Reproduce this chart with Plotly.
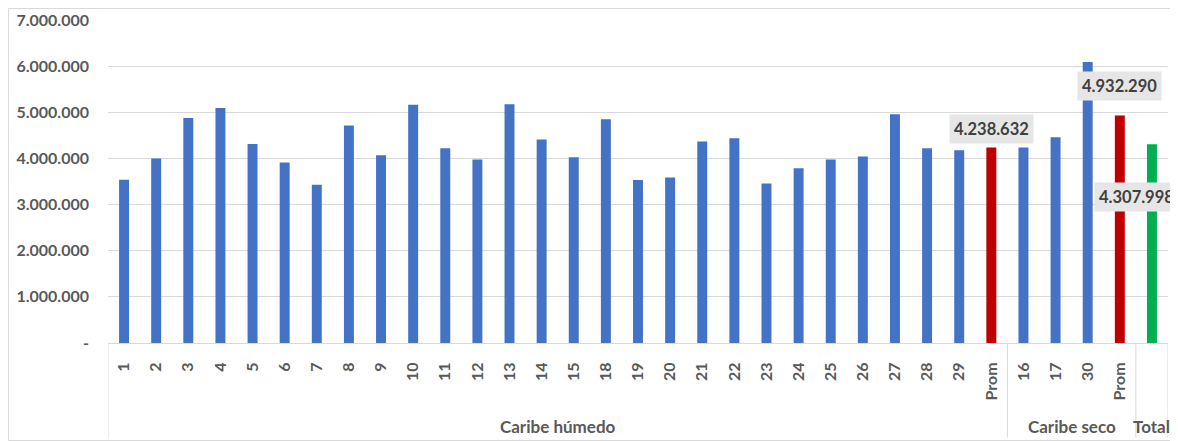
import plotly.graph_objects as go

# ---- data ----
humedo_labels = ["1", "2", "3", "4", "5", "6", "7", "8", "9", "10", "11", "12", "13", "14",
                 "15", "18", "19", "20", "21", "22", "23", "24", "25", "26", "27", "28", "29"]
humedo_values = [3540000, 4000000, 4877000, 5093000, 4314000, 3911000, 3427000, 4712000,
                 4069000, 5166000, 4221000, 3976000, 5173000, 4409000, 4026000, 4848000,
                 3535000, 3586000, 4366000, 4437000, 3456000, 3788000, 3976000, 4041000,
                 4957000, 4221000, 4177000]
humedo_prom = 4238632

seco_labels = ["16", "17", "30"]
seco_values = [4235000, 4459000, 6089000]
seco_prom = 4932290

total_value = 4307998

group_names = ["Caribe húmedo", "Caribe seco", "Total"]
prom_label = "Prom"

y_tickvals = [0, 1000000, 2000000, 3000000, 4000000, 5000000, 6000000, 7000000]
y_ticktext = ["-", "1.000.000", "2.000.000", "3.000.000", "4.000.000",
              "5.000.000", "6.000.000", "7.000.000"]

# ---- styles ----
BLUE = "#4472C4"
RED = "#C00000"
GREEN = "#00B050"
GRID = "#D9D9D9"
TXT = "#595959"
LBL = "#404040"
FONT = "Lato"

# ---- build combined series ----
cats = humedo_labels + [prom_label] + seco_labels + [prom_label] + [""]
vals = humedo_values + [humedo_prom] + seco_values + [seco_prom] + [total_value]
kinds = (["v"] * len(humedo_labels) + ["p"] + ["v"] * len(seco_labels) + ["p"] + ["t"])
color_map = {"v": BLUE, "p": RED, "t": GREEN}
colors = [color_map[k] for k in kinds]
xs = list(range(len(cats)))

group_sizes = [len(humedo_labels) + 1, len(seco_labels) + 1, 1]

fig = go.Figure()
fig.add_trace(go.Bar(x=xs, y=vals, marker=dict(color=colors, line=dict(width=0)),
                     width=0.31, hoverinfo="skip"))

# group labels and dividers
start = 0
bounds = [-0.5]
for name, size in zip(group_names, group_sizes):
    end = start + size
    fig.add_annotation(x=(start + end - 1) / 2, y=-0.259, xref="x", yref="paper",
                       text=name, showarrow=False, yanchor="middle",
                       font=dict(family=FONT, size=17, color=TXT, weight="bold"))
    bounds.append(end - 0.5)
    start = end
for b in bounds:
    fig.add_shape(type="line", xref="x", yref="paper", x0=b, x1=b, y0=0, y1=-0.293,
                  line=dict(color=GRID, width=1))

# data labels
idx_p1 = len(humedo_labels)
idx_p2 = idx_p1 + 1 + len(seco_labels)
idx_t = idx_p2 + 1
label_style = dict(showarrow=False, bgcolor="#E7E6E6", borderpad=4,
                   font=dict(family=FONT, size=16.5, color=LBL, weight="bold"))
fig.add_annotation(x=idx_p1, y=vals[idx_p1], text="4.238.632", yanchor="bottom", yshift=3,
                   **label_style)
fig.add_annotation(x=idx_p2, y=vals[idx_p2], text="4.932.290", yanchor="bottom", yshift=14,
                   **label_style)
fig.add_annotation(x=idx_t, y=vals[idx_t], text="4.307.998", yanchor="middle", yshift=-53,
                   xshift=-15, **label_style)

# outer chart border
fig.add_shape(type="rect", xref="paper", yref="paper", x0=-0.0939, x1=1.009, y0=-0.3019, y1=1.0356,
              line=dict(color=GRID, width=1))

fig.update_layout(
    width=1170, height=433,
    margin=dict(l=100, r=10, t=12, b=98, autoexpand=False),
    paper_bgcolor="white", plot_bgcolor="white",
    showlegend=False,
    font=dict(family=FONT, color=TXT),
)
fig.update_xaxes(
    range=[-0.5, len(cats) - 0.5], automargin=False,
    tickmode="array", tickvals=xs, ticktext=cats, tickangle=-90,
    tickfont=dict(family=FONT, size=16, color=TXT, weight="bold"),
    showgrid=False, showline=True, linecolor=GRID, linewidth=1,
    ticks="", ticklabelstandoff=12, zeroline=False,
)
fig.update_yaxes(
    range=[0, 7000000], automargin=False,
    tickmode="array", tickvals=y_tickvals, ticktext=y_ticktext,
    tickfont=dict(family=FONT, size=16, color=TXT, weight="bold"),
    showgrid=True, gridcolor=GRID, gridwidth=1,
    showline=False, zeroline=False, ticks="", ticklabelstandoff=18,
)

fig.write_html("out.html")
